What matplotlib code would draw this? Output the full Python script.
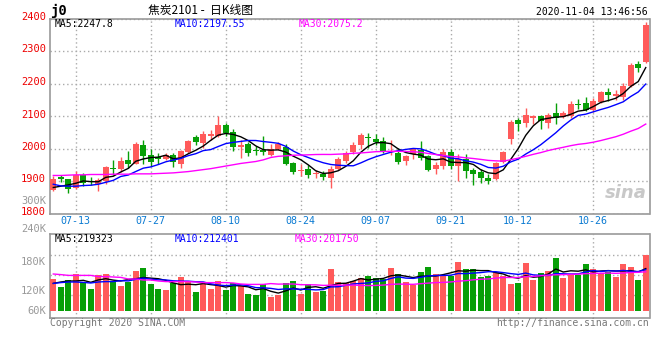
import numpy as np
import pandas as pd
import matplotlib
matplotlib.use('Agg')
import matplotlib.pyplot as plt
import matplotlib.transforms as mtransforms

# daily candles, 2020-07-08 .. 2020-11-04 (80 trading days)
opens = [1872, 1911, 1906, 1877, 1918, 1898, 1892, 1899, 1940, 1938,
         1965, 1953, 2010, 1981, 1974, 1969, 1979, 1952, 1990, 2036,
         2017, 2040, 2039, 2072, 2050, 2005, 2015, 1994, 1995, 1979,
         1998, 2005, 1956, 1931, 1938, 1921, 1921, 1910, 1938, 1962,
         1990, 2010, 2035, 2030, 2022, 1988, 1987, 1962, 1983, 1995,
         1976, 1937, 1946, 1989, 1947, 1969, 1933, 1928, 1910, 1905,
         1960, 2028, 2087, 2079, 2093, 2099, 2080, 2109, 2098, 2100,
         2138, 2139, 2117, 2144, 2173, 2163, 2160, 2193, 2259, 2266]
highs = [1914, 1920, 1907, 1930, 1925, 1913, 1908, 1946, 1964, 1973,
         1992, 2020, 2025, 2000, 1985, 1986, 1986, 1995, 2025, 2041,
         2053, 2057, 2100, 2080, 2061, 2025, 2020, 2008, 2040, 2015,
         2020, 2015, 1960, 1952, 1949, 1933, 1930, 1946, 1974, 1993,
         2019, 2049, 2048, 2046, 2035, 2025, 2003, 1980, 2003, 2023,
         1979, 1957, 1997, 1997, 1984, 1982, 1940, 1936, 1923, 1959,
         1991, 2087, 2094, 2126, 2103, 2103, 2109, 2139, 2114, 2147,
         2153, 2158, 2155, 2177, 2186, 2180, 2203, 2262, 2268, 2388]
lows = [1868, 1897, 1864, 1874, 1884, 1887, 1869, 1892, 1918, 1928,
        1940, 1951, 1951, 1947, 1952, 1966, 1944, 1940, 1985, 2011,
        2003, 2026, 2036, 2040, 1991, 1972, 1978, 1980, 1980, 1977,
        1995, 1949, 1923, 1915, 1910, 1910, 1903, 1877, 1933, 1955,
        1982, 2000, 2002, 2010, 1987, 1979, 1952, 1950, 1969, 1966,
        1930, 1923, 1936, 1938, 1899, 1908, 1887, 1895, 1890, 1903,
        1956, 2013, 2054, 2066, 2076, 2060, 2062, 2075, 2093, 2095,
        2122, 2114, 2111, 2139, 2145, 2150, 2150, 2189, 2235, 2262]
closes = [1907, 1905, 1874, 1920, 1895, 1896, 1903, 1942, 1937, 1961,
          1951, 2013, 1977, 1959, 1967, 1981, 1957, 1992, 2022, 2021,
          2046, 2045, 2072, 2048, 2005, 2010, 1986, 1991, 1990, 1997,
          2015, 1952, 1928, 1935, 1918, 1924, 1911, 1938, 1967, 1985,
          2010, 2041, 2031, 2021, 1988, 1993, 1960, 1976, 1997, 1972,
          1933, 1949, 1990, 1946, 1967, 1931, 1921, 1908, 1899, 1954,
          1990, 2082, 2075, 2102, 2100, 2085, 2103, 2093, 2109, 2136,
          2134, 2119, 2147, 2173, 2165, 2169, 2192, 2257, 2247, 2380]
# volume, thousands of lots
volumes = [160, 120, 155, 185, 147, 110, 180, 185, 150, 125,
           147, 200, 215, 135, 110, 105, 138, 170, 147, 97,
           135, 110, 150, 105, 138, 125, 85, 78, 135, 70,
           80, 140, 150, 85, 135, 97, 102, 210, 145, 140,
           150, 165, 175, 165, 160, 215, 185, 145, 130, 195,
           220, 185, 180, 175, 245, 210, 210, 170, 175, 195,
           175, 135, 140, 240, 155, 190, 200, 265, 165, 185,
           180, 235, 210, 190, 195, 170, 235, 220, 155, 280]

# moving averages before a full window exists
ma5_head = [1880, 1884, 1888, 1893]
ma10_head = [1890, 1885, 1884, 1884, 1886, 1887, 1890, 1896, 1902]
ma30_head = [1917, 1917, 1918, 1919, 1919, 1920, 1920, 1920, 1921, 1921,
             1921, 1922, 1922, 1922, 1923, 1924, 1925, 1927, 1929, 1932,
             1935, 1938, 1942, 1946, 1950, 1954, 1957, 1960, 1965]
vma5_head = [138, 145, 150, 150]
vma10_head = [138, 142, 145, 145, 143, 140, 145, 147, 147]
vma30_head = [185, 182, 178, 178, 178, 178, 172, 172, 170, 168,
              160, 160, 155, 155, 150, 147, 147, 147, 147, 145,
              142, 142, 142, 142, 140, 135, 133, 133, 133]

date_labels = ['07-13', '07-27', '08-10', '08-24', '09-07', '09-21', '10-12', '10-26']
date_pos = [3, 13, 23, 33, 43, 53, 62, 72]
price_ticks = [1800, 1900, 2000, 2100, 2200, 2300, 2400]
vol_labels = ['300K', '240K', '180K', '120K', '60K']

RED = '#ff5a5a'
GREEN = '#079f07'
GRID = '#aaaaaa'
MONO = 'DejaVu Sans Mono'


def moving(values, n, head):
    ma = pd.Series(values, dtype=float).rolling(n).mean().to_numpy()
    ma[:len(head)] = head
    return ma


o = np.array(opens)
c = np.array(closes)
x = np.arange(len(c))
colors = np.where(c >= o, RED, GREEN)

W, H = 660, 360
fig = plt.figure(figsize=(W / 100, H / 100), dpi=100)


def box(x0, y0, x1, y1):
    return [x0 / W, 1 - y1 / H, (x1 - x0) / W, (y1 - y0) / H]


ax = fig.add_axes(box(50, 18.5, 649.5, 213.5))
axv = fig.add_axes(box(50, 234, 649.5, 318))

# candles
ax.vlines(x, lows, highs, colors=colors, linewidth=1, zorder=3)
body_h = np.maximum(np.abs(c - o), 1.6)
ax.bar(x, body_h, bottom=np.minimum(o, c), width=0.76, color=colors,
       linewidth=0, zorder=3)
ax.plot(x, moving(closes, 5, ma5_head), color='black', lw=1, zorder=4)
ax.plot(x, moving(closes, 10, ma10_head), color='#0000ff', lw=1, zorder=4)
ax.plot(x, moving(closes, 30, ma30_head), color='#ff00ff', lw=1, zorder=4)

# volume
axv.bar(x, volumes, width=0.82, color=colors, linewidth=0, zorder=3)
axv.plot(x, moving(volumes, 5, vma5_head), color='black', lw=1, zorder=4)
axv.plot(x, moving(volumes, 10, vma10_head), color='#0000ff', lw=1, zorder=4)
axv.plot(x, moving(volumes, 30, vma30_head), color='#ff00ff', lw=1, zorder=4)

for a in (ax, axv):
    a.set_xlim(-0.44, 79.5)
    a.set_xticks(date_pos)
    a.grid(True, color=GRID, linestyle=(0, (1, 2)), linewidth=1)
    a.set_axisbelow(True)
    a.tick_params(length=0)
    for s in a.spines.values():
        s.set_color('#999999')
        s.set_linewidth(1.2)

ax.set_ylim(1800, 2400)
ax.set_yticks(price_ticks)
ax.set_yticklabels([str(t) for t in price_ticks], color='#ee0000',
                   fontsize=7.5, family=MONO)
ax.tick_params(axis='y', pad=3)
shift = mtransforms.ScaledTranslation(0, 2.5 / 100, fig.dpi_scale_trans)
for lab in ax.get_yticklabels():
    lab.set_transform(lab.get_transform() + shift)
ax.set_xticklabels(date_labels, color='#0a7ad2', fontsize=7.2, family=MONO)
ax.tick_params(axis='x', pad=2)

axv.set_ylim(-35, 385)
axv.set_yticks([80, 180, 280])
axv.set_yticklabels([])
axv.set_xticklabels([])

# volume scale labels as drawn by the source chart
for lab, yy in zip(vol_labels, [201, 229, 262, 291, 311]):
    fig.text(46 / W, 1 - yy / H, lab, ha='right', va='center',
             color='#999999', fontsize=7.5, family=MONO)

# header
fig.text(50 / W, 1 - 10.5 / H, 'j0', ha='left', va='center', fontsize=10,
         family=MONO, weight='bold')
fig.text(200 / W, 1 - 10 / H, '焦炭2101 -  日K线图', ha='center', va='center',
         fontsize=8.5, family=['Noto Sans CJK SC', 'DejaVu Sans'])
fig.text(648 / W, 1 - 12 / H, '2020-11-04 13:46:56', ha='right', va='center',
         fontsize=7, family=MONO)

# MA legends
for (txt, col, px) in [('MA5:2247.8', 'black', 55), ('MA10:2197.55', '#0000ff', 175),
                       ('MA30:2075.2', '#ff00ff', 299)]:
    fig.text(px / W, 1 - 24 / H, txt, color=col, ha='left', va='center',
             fontsize=7, family=MONO)
for (txt, col, px) in [('MA5:219323', 'black', 55), ('MA10:212401', '#0000ff', 175),
                       ('MA30:201750', '#ff00ff', 295)]:
    fig.text(px / W, 1 - 238.5 / H, txt, color=col, ha='left', va='center',
             fontsize=7, family=MONO)

# watermark and footer
ax.text(0.995, 0.06, 'sina', transform=ax.transAxes, ha='right', va='bottom',
        fontsize=13, style='italic', weight='bold', color='#c8c8c8', zorder=2)
fig.text(50 / W, 1 - 323 / H, 'Copyright 2020 SINA.COM', ha='left', va='center',
         color='#777777', fontsize=7, family=MONO)
fig.text(649 / W, 1 - 323 / H, 'http://finance.sina.com.cn', ha='right', va='center',
         color='#777777', fontsize=7, family=MONO)

fig.savefig('out.png', dpi=100)
